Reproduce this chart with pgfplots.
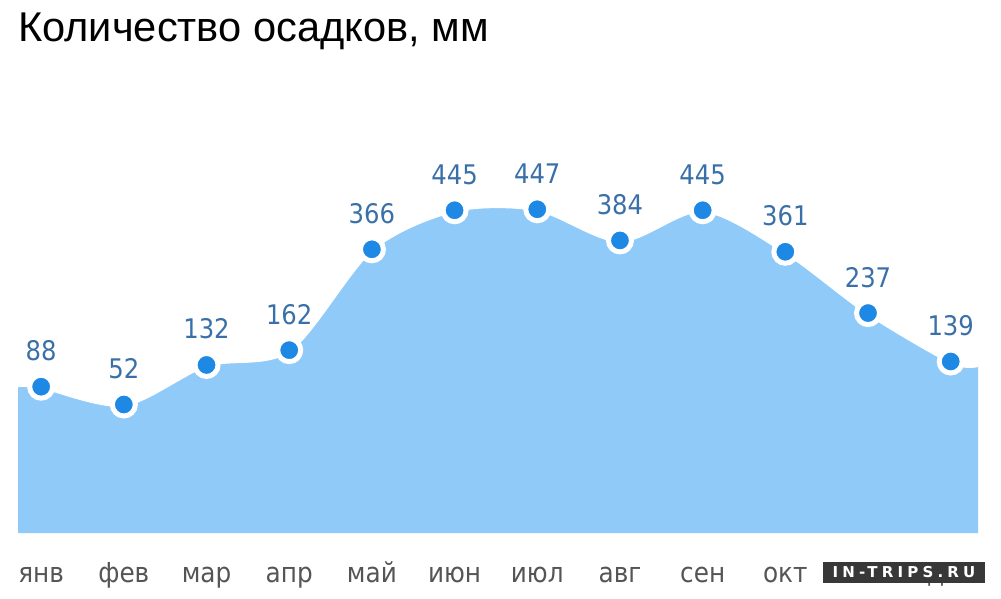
\documentclass[border=0pt]{standalone}
\usepackage{fontspec}
\setmainfont{Liberation Sans}
\newfontfamily\lblfont{DejaVu Sans Condensed}
\newfontfamily\wmfont[LetterSpace=28]{DejaVu Sans}
\usepackage{pgfplots}
\pgfplotsset{compat=1.18}
\usepgfplotslibrary{fillbetween}
\definecolor{areablue}{HTML}{90CAF9}
\definecolor{dotblue}{HTML}{1E88E5}
\definecolor{numblue}{HTML}{3A70A8}
\definecolor{monthgray}{HTML}{555555}

\pgfplotstableread{
x y
0 88
1 52
2 132
3 162
4 366
5 445
6 447
7 384
8 445
9 361
10 237
11 139
}\monthly

\pgfplotstableread{
x y
-0.28 91
0 88
1 52
2 132
3 162
4 366
5 445
6 447
7 384
8 445
9 361
10 237
11 139
11.33 132
}\areadata

\begin{document}
\begin{tikzpicture}
\begin{axis}[
  at={(0pt,0pt)}, anchor=south west,
  scale only axis, width=960pt, height=473pt,
  xmin=-0.28, xmax=11.33, ymin=-208, ymax=749,
  axis line style={draw=none},
  ytick=\empty,
  xtick={0,...,11},
  xticklabels={янв,фев,мар,апр,май,июн,июл,авг,сен,окт,ноя,дек},
  major tick length=0pt,
  tick style={draw=none},
  clip=false,
  /pgf/number format/assume math mode=true,
  xticklabel style={font=\lblfont\fontsize{27.5}{32}\selectfont, text=monthgray, anchor=base, yshift=-49pt},
]
\addplot[name path=top, draw=none, smooth, mark=none] table {\areadata};
\path[name path=bot] (axis cs:-0.28,-208) -- (axis cs:11.33,-208);
\addplot[areablue, draw=none] fill between[of=top and bot];
\addplot[white, line width=4pt, smooth, mark=none] table {\areadata};
\addplot[only marks, mark=*, mark size=11.5pt,
  mark options={fill=dotblue, draw=white, line width=5pt},
  nodes near coords,
  nodes near coords style={anchor=base, yshift=26pt, text=numblue, font=\lblfont\fontsize{27}{32}\selectfont},
] table {\monthly};
\end{axis}
\node[anchor=base west, inner sep=0pt, font=\fontsize{41.6}{50}\selectfont] at (0pt,491pt) {Количество осадков, мм};
\node[fill=black!78, text=white, inner sep=0pt, minimum width=162pt, minimum height=21pt, font=\wmfont\bfseries\fontsize{15}{18}\selectfont] at (886pt,-39pt) {IN-TRIPS.RU};
\pgfresetboundingbox
\path[use as bounding box] (-18pt,-65pt) rectangle (983pt,533pt);
\end{tikzpicture}
\end{document}
